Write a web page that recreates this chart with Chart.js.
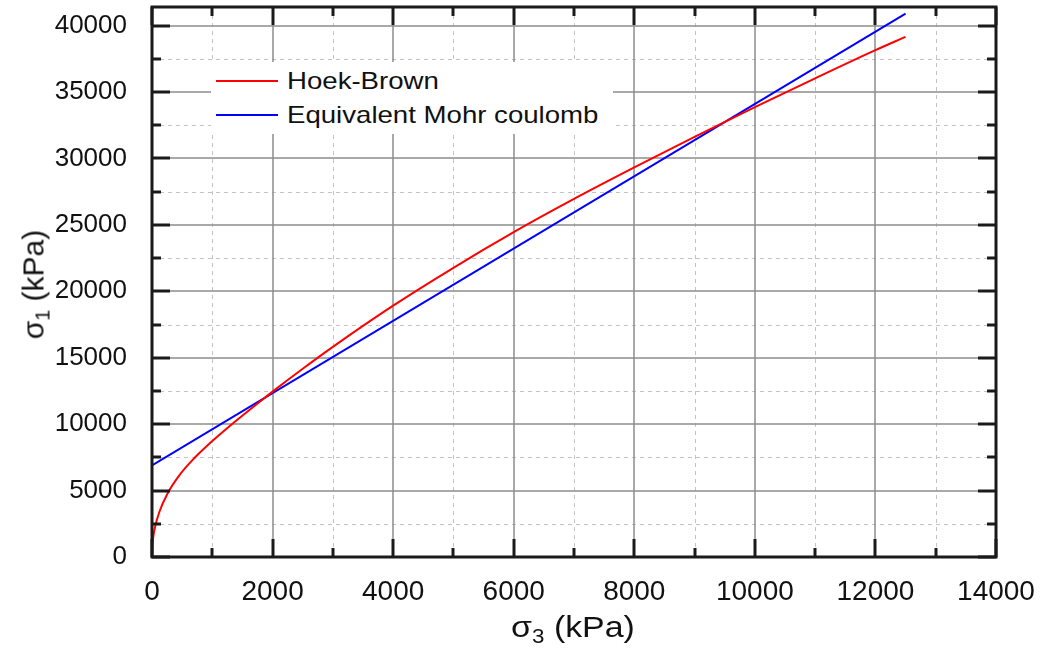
<!DOCTYPE html>
<html>
<head>
<meta charset="utf-8">
<script src="https://cdn.jsdelivr.net/npm/chart.js@4.4.0/dist/chart.umd.min.js"></script>
<style>
  body { margin: 0; background: #fff; font-family: "Liberation Sans", Arial, sans-serif; color: #111; }
  #cadre { position: relative; width: 1040px; height: 650px; overflow: hidden; }
  #graphe { position: absolute; left: 0; top: 0; }
  .titre { position: absolute; text-align: center; white-space: nowrap; font-size: 30px; line-height: 34px; }
  .titre .ind { font-size: 0.66em; position: relative; top: 0.32em; }
  #legende { position: absolute; left: 211px; top: 62px; width: 402px; height: 72px; background: #fff; }
  .entree { position: absolute; left: 0; height: 34px; width: 402px; font-size: 24px; line-height: 34px; }
  .trait { position: absolute; left: 5px; top: 16px; width: 62px; height: 2px; }
  .nom { position: absolute; left: 76px; top: 0; transform: scaleX(1.15); transform-origin: left center; }
</style>
</head>
<body>
<div id="cadre">
  <canvas id="graphe" width="1040" height="650"></canvas>
  <div id="legende"></div>
  <div class="titre" id="titre-y" style="left:-65px; top:266px; width:200px; transform: rotate(-90deg);">σ<span class="ind">1</span> (kPa)</div>
  <div class="titre" id="titre-x" style="left:373px; top:610px; width:400px; transform: scaleX(1.13);">σ<span class="ind">3</span> (kPa)</div>
</div>
<script>
// Données (kPa)
const sigma3HB = [0, 5, 20, 50, 120, 260, 450, 700, 1000, 1300, 1600, 1850, 2000, 2500, 3000, 4000, 5000, 6000, 7000, 8000, 9000, 10000, 11000, 12000, 12500];
const sigma1HB = [0, 750, 1470, 2250, 3370, 4800, 6130, 7430, 8730, 9900, 11010, 11910, 12450, 14170, 15820, 18920, 21770, 24450, 26950, 29320, 31620, 33860, 36030, 38150, 39150];

const sigma3MC = [0, 12500];
const sigma1MC = [6900, 40900];

const series = ["Hoek-Brown", "Equivalent Mohr coulomb"];
const couleurs = ["#ff0000", "#0000ff"];

const xTicks = [0, 2000, 4000, 6000, 8000, 10000, 12000, 14000];
const yTicks = [0, 5000, 10000, 15000, 20000, 25000, 30000, 35000, 40000];

const xMax = 14000;
const yMax = 41400;
const police = '"Liberation Sans", Arial, sans-serif';

// Légende en HTML à partir des séries
const legende = document.getElementById("legende");
series.forEach((nom, i) => {
  const div = document.createElement("div");
  div.className = "entree";
  div.style.top = (2 + i * 34) + "px";
  div.innerHTML = `<div class="trait" style="background:${couleurs[i]}"></div><span class="nom">${nom}</span>`;
  legende.appendChild(div);
});

// Grille, cadre et graduations intérieures
const grillePlugin = {
  id: "grille",
  beforeDatasetsDraw(chart) {
    const { ctx, chartArea: a, scales: { x, y } } = chart;
    ctx.save();
    // grille secondaire en pointillés
    ctx.setLineDash([4, 4]);
    ctx.strokeStyle = "#c4c4c4";
    ctx.lineWidth = 1;
    for (let i = 0; i < xTicks.length - 1; i++) {
      const px = Math.round(x.getPixelForValue((xTicks[i] + xTicks[i + 1]) / 2)) + 0.5;
      ctx.beginPath(); ctx.moveTo(px, a.top); ctx.lineTo(px, a.bottom); ctx.stroke();
    }
    for (let i = 0; i < yTicks.length; i++) {
      const v = yTicks[i] + 2500;
      if (v >= yMax) continue;
      const py = Math.round(y.getPixelForValue(v)) + 0.5;
      ctx.beginPath(); ctx.moveTo(a.left, py); ctx.lineTo(a.right, py); ctx.stroke();
    }
    // grille principale
    ctx.setLineDash([]);
    ctx.strokeStyle = "#8c8c8c";
    ctx.lineWidth = 1.5;
    xTicks.slice(1, -1).forEach(v => {
      const px = Math.round(x.getPixelForValue(v));
      ctx.beginPath(); ctx.moveTo(px, a.top); ctx.lineTo(px, a.bottom); ctx.stroke();
    });
    yTicks.slice(1).forEach(v => {
      const py = Math.round(y.getPixelForValue(v));
      ctx.beginPath(); ctx.moveTo(a.left, py); ctx.lineTo(a.right, py); ctx.stroke();
    });
    ctx.restore();
  },
  afterDatasetsDraw(chart) {
    const { ctx, chartArea: a, scales: { x, y } } = chart;
    ctx.save();
    ctx.strokeStyle = "#1a1a1a";
    ctx.lineWidth = 3;
    ctx.lineCap = "butt";
    const trait = (x1, y1, x2, y2) => { ctx.beginPath(); ctx.moveTo(x1, y1); ctx.lineTo(x2, y2); ctx.stroke(); };
    // graduations x (haut et bas)
    for (let i = 0; i < xTicks.length; i++) {
      const px = Math.round(x.getPixelForValue(xTicks[i]));
      trait(px, a.bottom, px, a.bottom - 18);
      trait(px, a.top, px, a.top + 18);
      if (i < xTicks.length - 1) {
        const pm = Math.round(x.getPixelForValue((xTicks[i] + xTicks[i + 1]) / 2));
        trait(pm, a.bottom, pm, a.bottom - 9);
        trait(pm, a.top, pm, a.top + 9);
      }
    }
    // graduations y (gauche et droite)
    yTicks.forEach(v => {
      const py = Math.round(y.getPixelForValue(v));
      trait(a.left, py, a.left + 18, py);
      trait(a.right, py, a.right - 18, py);
      if (v + 2500 < yMax) {
        const pm = Math.round(y.getPixelForValue(v + 2500));
        trait(a.left, pm, a.left + 9, pm);
        trait(a.right, pm, a.right - 9, pm);
      }
    });
    // cadre
    ctx.strokeRect(a.left, a.top, a.right - a.left, a.bottom - a.top);
    ctx.restore();
  }
};

new Chart(document.getElementById("graphe"), {
  type: "scatter",
  data: {
    datasets: [
      {
        label: series[0],
        data: sigma3HB.map((v, i) => ({ x: v, y: sigma1HB[i] })),
        showLine: true,
        borderColor: couleurs[0],
        borderWidth: 2,
        pointRadius: 0,
        cubicInterpolationMode: "monotone"
      },
      {
        label: series[1],
        data: sigma3MC.map((v, i) => ({ x: v, y: sigma1MC[i] })),
        showLine: true,
        borderColor: couleurs[1],
        borderWidth: 2,
        pointRadius: 0
      }
    ]
  },
  options: {
    responsive: false,
    animation: false,
    devicePixelRatio: 1,
    layout: { padding: { top: 7, right: 44, left: 0, bottom: 0 } },
    plugins: { legend: { display: false }, tooltip: { enabled: false } },
    scales: {
      x: {
        type: "linear",
        min: 0,
        max: xMax,
        afterBuildTicks: s => { s.ticks = xTicks.map(v => ({ value: v })); },
        afterFit: s => { s.height = 93; s.paddingLeft = 0; s.paddingRight = 0; },
        grid: { display: false, drawTicks: false, tickLength: 0 },
        border: { display: false },
        ticks: {
          color: "#111",
          font: { family: police, size: 28 },
          padding: 18,
          maxRotation: 0,
          autoSkip: false,
          callback: v => String(v)
        }
      },
      y: {
        type: "linear",
        min: 0,
        max: yMax,
        afterBuildTicks: s => { s.ticks = yTicks.map(v => ({ value: v })); },
        afterFit: s => { s.width = 152; s.paddingTop = 0; s.paddingBottom = 0; },
        grid: { display: false, drawTicks: false, tickLength: 0 },
        border: { display: false },
        ticks: {
          color: "#111",
          font: { family: police, size: 26 },
          padding: 25,
          autoSkip: false,
          callback: v => String(v)
        }
      }
    }
  },
  plugins: [grillePlugin]
});
</script>
</body>
</html>
